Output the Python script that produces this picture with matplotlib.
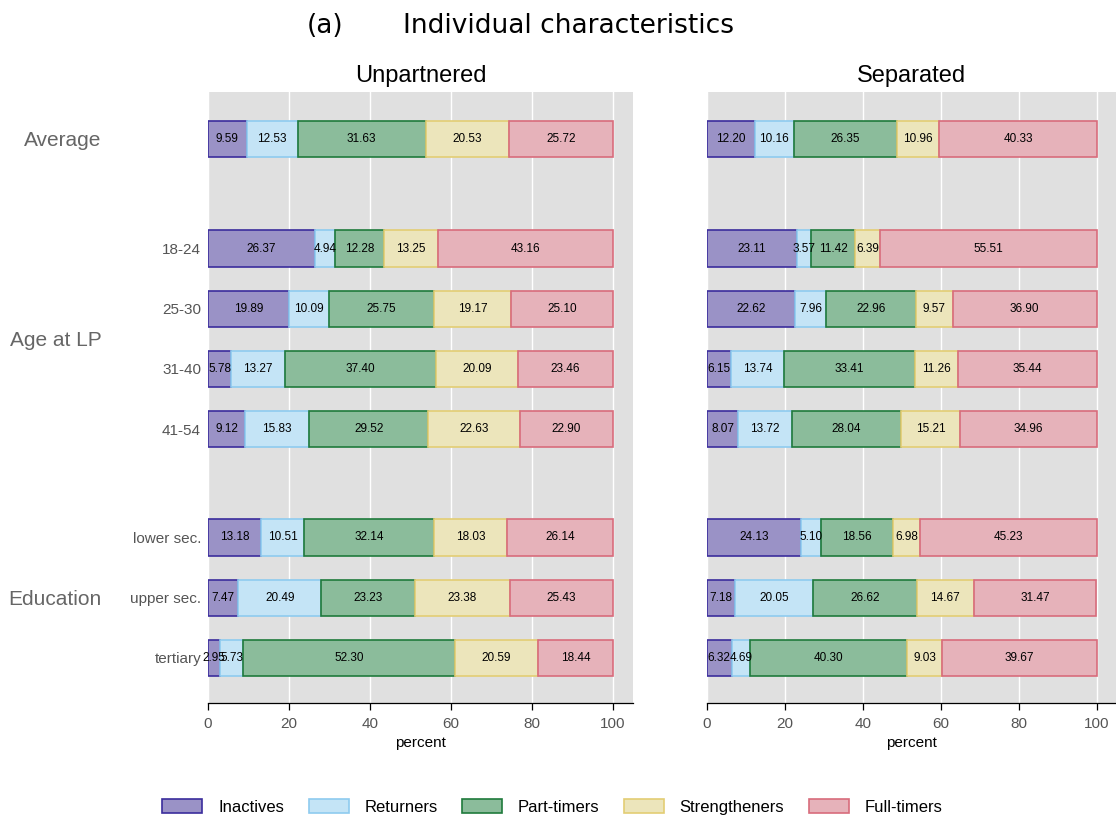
import matplotlib
matplotlib.use("Agg")
import matplotlib.pyplot as plt
from matplotlib.patches import Patch
import numpy as np

categories = ["Average", "18-24", "25-30", "31-40", "41-54", "lower sec.", "upper sec.", "tertiary"]
series = ["Inactives", "Returners", "Part-timers", "Strengtheners", "Full-timers"]

unpartnered = {
    "Inactives":     [9.59, 26.37, 19.89, 5.78, 9.12, 13.18, 7.47, 2.95],
    "Returners":     [12.53, 4.94, 10.09, 13.27, 15.83, 10.51, 20.49, 5.73],
    "Part-timers":   [31.63, 12.28, 25.75, 37.40, 29.52, 32.14, 23.23, 52.30],
    "Strengtheners": [20.53, 13.25, 19.17, 20.09, 22.63, 18.03, 23.38, 20.59],
    "Full-timers":   [25.72, 43.16, 25.10, 23.46, 22.90, 26.14, 25.43, 18.44],
}
separated = {
    "Inactives":     [12.20, 23.11, 22.62, 6.15, 8.07, 24.13, 7.18, 6.32],
    "Returners":     [10.16, 3.57, 7.96, 13.74, 13.72, 5.10, 20.05, 4.69],
    "Part-timers":   [26.35, 11.42, 22.96, 33.41, 28.04, 18.56, 26.62, 40.30],
    "Strengtheners": [10.96, 6.39, 9.57, 11.26, 15.21, 6.98, 14.67, 9.03],
    "Full-timers":   [40.33, 55.51, 36.90, 35.44, 34.96, 45.23, 31.47, 39.67],
}

group_labels = ["Average", "Age at LP", "Education"]

fills = ["#9a92c6", "#c4e4f6", "#8bbc9b", "#ece5bb", "#e6b2ba"]
edges = ["#3b2d9c", "#8ecbef", "#1f7a3c", "#e3cd74", "#d86c7c"]

ypos = [8.62, 6.80, 5.80, 4.80, 3.80, 2.0, 1.0, 0.0]
group_y = [8.62, 5.30, 1.0]

font_ar = ["Liberation Sans", "DejaVu Sans"]
font_v = ["DejaVu Sans"]

fig = plt.figure(figsize=(11.16, 8.17), dpi=100)
bottom, height = 0.1395, 0.7479
ax1 = fig.add_axes([0.1864, bottom, 0.3808, height])
ax2 = fig.add_axes([0.6335, bottom, 0.3665, height])

for ax, data, title in [(ax1, unpartnered, "Unpartnered"), (ax2, separated, "Separated")]:
    ax.set_facecolor("#e0e0e0")
    left = np.zeros(len(categories))
    for s, fc, ec in zip(series, fills, edges):
        vals = np.array(data[s])
        ax.barh(ypos, vals, left=left, height=0.6, color=fc, edgecolor=ec, linewidth=1.2, zorder=3)
        for y, l, v in zip(ypos, left, vals):
            ax.text(l + v / 2, y, f"{v:.2f}", ha="center", va="center", fontsize=8.5,
                    family=font_ar, color="black", zorder=4)
        left += vals
    ax.set_xlim(0, 105)
    ax.set_ylim(-0.75, 9.4)
    ax.set_xticks([0, 20, 40, 60, 80, 100])
    ax.grid(axis="x", color="white", linewidth=1.0, zorder=0)
    ax.set_axisbelow(True)
    for name, sp in ax.spines.items():
        sp.set_visible(name == "bottom")
    ax.spines["bottom"].set_color("black")
    ax.spines["bottom"].set_linewidth(0.9)
    ax.tick_params(axis="x", colors="black", labelcolor="#555555", labelsize=11, length=5, width=0.9, pad=5)
    for lab in ax.get_xticklabels():
        lab.set_family(font_ar)
    ax.set_xlabel("percent", fontsize=11, family=font_ar, color="black", labelpad=4)
    ax.set_title(title, fontsize=17, family=font_ar, pad=7)

ax1.set_yticks(ypos)
ax1.set_yticklabels([""] + categories[1:])
ax1.tick_params(axis="y", length=0, colors="#555555", labelsize=11, pad=5)
for lab in ax1.get_yticklabels():
    lab.set_family(font_ar)
ax2.set_yticks([])

for g, y in zip(group_labels, group_y):
    ax1.text(-0.250, y, g, transform=ax1.get_yaxis_transform(), ha="right", va="center_baseline",
             fontsize=15, color="#666666", family=font_ar)

fig.text(0.275, 0.968, "(a)", ha="left", va="center", fontsize=19, family=font_v)
fig.text(0.361, 0.968, "Individual characteristics", ha="left", va="center", fontsize=19, family=font_v)

handles = [Patch(facecolor=fc, edgecolor=ec, linewidth=1.2, label=s) for s, fc, ec in zip(series, fills, edges)]
fig.legend(handles=handles, loc="center", bbox_to_anchor=(0.495, 0.0125), ncol=5, frameon=False,
           prop={"family": font_ar, "size": 12}, handlelength=2.4, handleheight=0.9,
           columnspacing=1.45, handletextpad=0.96)

fig.savefig("out.png", dpi=100)
